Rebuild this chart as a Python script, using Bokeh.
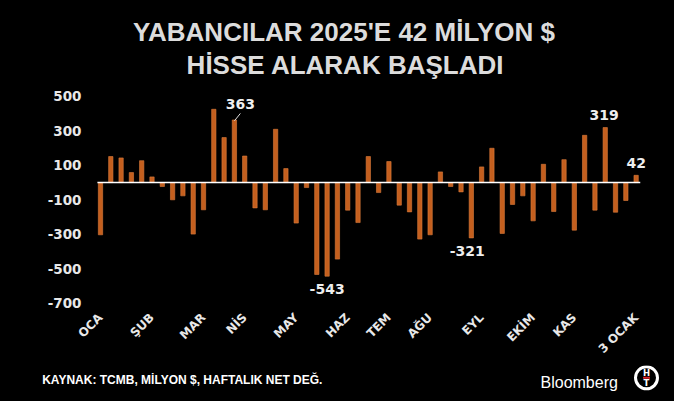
import math
from bokeh.plotting import figure
from bokeh.layouts import column
from bokeh.models import Range1d, FixedTicker, Label, ColumnDataSource
from bokeh.core.properties import value
from bokeh.embed import file_html
from bokeh.resources import INLINE

# ---- data ----
weeks = list(range(53))
values = [-303, 151, 143, 58, 127, 33, -23, -100, -77, -299, -158, 425, 261, 363,
          154, -147, -158, 309, 81, -235, -29, -533, -543, -444, -160, -232, 151,
          -58, 122, -131, -170, -328, -303, 62, -23, -54, -321, 91, 199, -295, -127,
          -77, -222, 106, -168, 133, -276, 274, -160, 319, -172, -104, 42]
month_pos = [0, 5, 10, 14, 19, 24, 28, 32, 37, 42, 46, 52]
month_labels = ["OCA", "ŞUB", "MAR", "NİS", "MAY", "HAZ", "TEM", "AĞU", "EYL", "EKİM", "KAS", "3 OCAK"]
y_ticks = [500, 300, 100, -100, -300, -500, -700]
y_tick_labels = ["500", "300", "100", "-100", "-300", "-500", "-700"]
annot_weeks = [13, 22, 36, 49, 52]

title_lines = ["YABANCILAR 2025'E 42 MİLYON $", "HİSSE ALARAK BAŞLADI"]
source_text = "KAYNAK: TCMB, MİLYON $, HAFTALIK NET DEĞ."
brand = "Bloomberg"

W = 674
BLACK_BG = {"background-color": "black"}


def unalign(f):
    try:
        f.frame_align = False
    except Exception:
        pass
    try:
        f.styles = BLACK_BG
    except Exception:
        pass


def blank(height):
    f = figure(width=W, height=height, output_backend="svg", toolbar_location=None,
               x_range=Range1d(0, W), y_range=Range1d(height, 0),
               x_axis_type=None, y_axis_type=None, min_border=0)
    f.background_fill_color = "black"
    f.border_fill_color = "black"
    f.outline_line_color = None
    unalign(f)
    return f


# ---- header (page rows 0..80) ----
head = blank(80)
head.text(x=[343.5, 345], y=[31.3, 64.7], text=title_lines, text_color="#dcdcdc",
          text_font=value("Liberation Sans"), text_font_style="bold", text_font_size="26px",
          text_align="center", text_baseline="middle")

# ---- main chart (page rows 80..365) ----
H = 285
L, R, T, B = 95, 26, 10, 60
X0, X1 = -0.485, 53.2
Y0, Y1 = -713, 534

p = figure(width=W, height=H, output_backend="svg", toolbar_location=None,
           x_range=Range1d(X0, X1), y_range=Range1d(Y0, Y1),
           min_border_left=L, min_border_right=R, min_border_top=T, min_border_bottom=B)
p.background_fill_color = "black"
p.border_fill_color = "black"
p.outline_line_color = None
p.grid.visible = False
unalign(p)

src = ColumnDataSource(dict(x=weeks, top=values))
p.vbar(x="x", top="top", width=0.42, source=src, fill_color="#c45f1e",
       line_color="#dc7c3c", line_width=0.6)

# zero line
p.segment(x0=[weeks[0] - 0.3], y0=[0], x1=[weeks[-1] + 0.4], y1=[0],
          line_color="white", line_width=1.5)

ya = p.yaxis[0]
ya.ticker = FixedTicker(ticks=y_ticks)
ya.major_label_overrides = {t: s for t, s in zip(y_ticks, y_tick_labels)}
ya.axis_line_color = None
ya.major_tick_line_color = None
ya.minor_tick_line_color = None
ya.major_label_text_color = "#e8e8e8"
ya.major_label_text_font = "DejaVu Sans"
ya.major_label_text_font_style = "bold"
ya.major_label_text_font_size = "13.5px"
ya.major_label_standoff = 8

xa = p.xaxis[0]
xa.ticker = FixedTicker(ticks=month_pos)
xa.major_label_overrides = {pos: lab for pos, lab in zip(month_pos, month_labels)}
xa.major_label_orientation = math.pi / 4
xa.axis_line_color = None
xa.major_tick_line_color = None
xa.minor_tick_line_color = None
xa.major_label_text_color = "#e8e8e8"
xa.major_label_text_font = "DejaVu Sans"
xa.major_label_text_font_style = "bold"
xa.major_label_text_font_size = "12px"
xa.major_label_standoff = 4

ann_style = dict(text_color="#eeeeee", text_font="DejaVu Sans", text_font_style="bold",
                 text_font_size="14px", text_align="center", text_baseline="middle")
ann_offsets = {13: (6, 16), 22: (0, -13), 36: (-4, -13), 49: (-1, 13), 52: (0, 12)}
for w in annot_weeks:
    v = values[w]
    dx, dy = ann_offsets[w]
    p.add_layout(Label(x=w, y=v, text=str(v), x_offset=dx, y_offset=dy, **ann_style))
w0 = annot_weeks[0]
p.segment(x0=[w0], y0=[values[w0] - 5], x1=[w0 + 0.58], y1=[values[w0] + 38],
          line_color="#dddddd", line_width=1)

# ---- footer (page rows 365..401) ----
foot = blank(36)
foot.text(x=[41.7], y=[14.5], text=[source_text], text_color="white",
          text_font=value("Liberation Sans"), text_font_style="bold", text_font_size="12px",
          text_align="left", text_baseline="middle")
foot.text(x=[540], y=[16.7], text=[brand], text_color="white",
          text_font=value("Liberation Sans"), text_font_size="16px",
          text_align="left", text_baseline="alphabetic")
# HT logo
foot.ellipse(x=[646], y=[12.3], width=[22], height=[22], fill_color="black",
             line_color="white", line_width=3)
foot.text(x=[646, 646], y=[7.3, 17.6], text=["H", "T"], text_color="white",
          text_font=value("DejaVu Sans"), text_font_style="bold", text_font_size="8.5px",
          text_align="center", text_baseline="middle")
foot.segment(x0=[642.5], y0=[12.3], x1=[649.5], y1=[12.3], line_color="#d8222a", line_width=2)

layout = column(head, p, foot, spacing=0)
try:
    layout.styles = BLACK_BG
except Exception:
    pass
open("out.html", "w").write(file_html(layout, INLINE))
